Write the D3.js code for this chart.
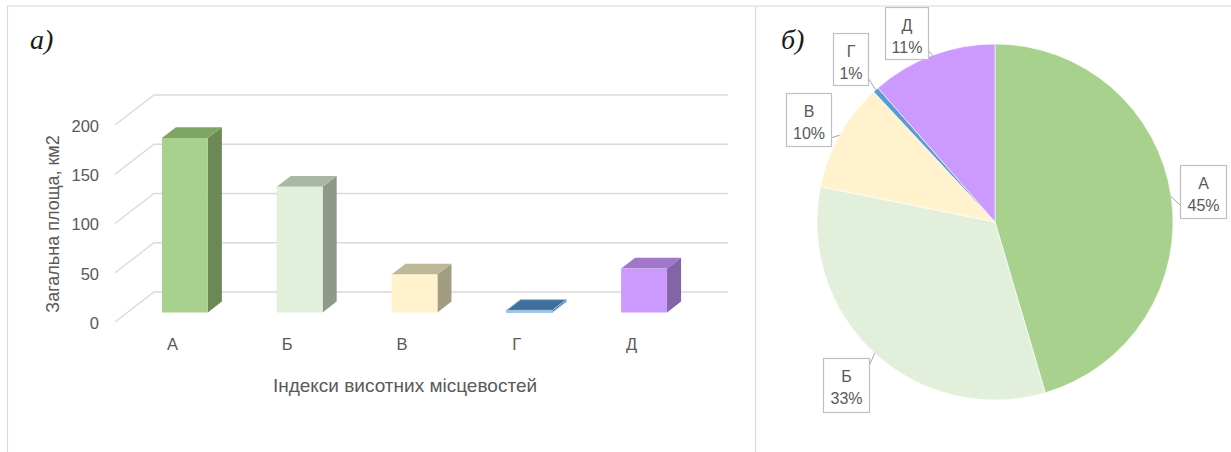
<!DOCTYPE html>
<html>
<head>
<meta charset="utf-8">
<script src="https://cdn.jsdelivr.net/npm/d3@7"></script>
<style>
  html, body { margin: 0; padding: 0; background: #fff; }
  svg { display: block; }
  text { font-family: "Liberation Sans", Arial, sans-serif; fill: #595959; }
</style>
</head>
<body>
<svg id="chart" width="1231" height="452"></svg>
<script>
// ---- data ----
const categories = ["А", "Б", "В", "Г", "Д"];
const areas = [177, 127.5, 38.5, 2, 44.5];      // загальна площа, км2
const yTicks = [0, 50, 100, 150, 200];
const frontColors = ["#a9d18e", "#e2efda", "#fff2cc", "#5b9bd5", "#cc99ff"];
const topColors   = ["#7fa564", "#a9b7a3", "#bfb898", "#3f6f9b", "#a077ca"];
const sideColors  = ["#6b8855", "#8e998a", "#a29c80", "#35628c", "#8264a7"];
const pieColors   = ["#a9d18e", "#e2efda", "#fff2cc", "#5b9bd5", "#cc99ff"];
const xTitle = "Індекси висотних місцевостей";
const yTitle = "Загальна площа, км2";

// ---- layout ----
const svg = d3.select("#chart");
const W = 1231, H = 452;

// panel frames
const frame = svg.append("g").attr("stroke", "#d9d9d9").attr("stroke-width", 1.2).attr("fill", "none");
frame.append("line").attr("x1", 7.5).attr("y1", 6).attr("x2", W).attr("y2", 6);
frame.append("line").attr("x1", 7.5).attr("y1", 6).attr("x2", 7.5).attr("y2", H);
frame.append("line").attr("x1", 755.5).attr("y1", 6).attr("x2", 755.5).attr("y2", H);

// panel captions
svg.append("text").attr("x", 30).attr("y", 49)
  .style("font-family", "'Liberation Serif', 'Times New Roman', serif")
  .style("font-style", "italic").style("font-size", "28px").style("fill", "#1a1a1a")
  .text("а)");
svg.append("text").attr("x", 781).attr("y", 49)
  .style("font-family", "'Liberation Serif', 'Times New Roman', serif")
  .style("font-style", "italic").style("font-size", "28px").style("fill", "#1a1a1a")
  .text("б)");

// ---- 3D column chart ----
const depthX = 39, depthY = -30;           // floor depth vector (front -> back wall)
const x = d3.scaleBand().domain(categories).range([115, 689]).paddingInner(0.6).paddingOuter(0.3);
const y = d3.scaleLinear().domain([0, 200]).range([322, 125]);
const P = (px, v, d) => [px + depthX * d, y(v) + depthY * d];

const bar = svg.append("g");
// gridlines: diagonal on side wall + horizontal on back wall
const grid = bar.append("g").attr("stroke", "#d9d9d9").attr("stroke-width", 1.3).attr("fill", "none");
yTicks.forEach(t => {
  const a = P(x.range()[0], t, 0), b = P(x.range()[0], t, 1), c = P(x.range()[1], t, 1);
  grid.append("path").attr("d", d3.line()([a, b, c]));
});

// y axis labels via d3 axis on the front edge
const yAxis = bar.append("g")
  .attr("transform", `translate(${x.range()[0] - 13},1)`)
  .call(d3.axisLeft(y).tickValues(yTicks).tickSize(0).tickPadding(3));
yAxis.select(".domain").remove();
yAxis.selectAll("text").style("font-family", "'Liberation Sans', Arial, sans-serif")
  .style("font-size", "16.5px").style("fill", "#595959");

// bars
const d0 = 0.32, d1 = 0.68;
const bars = bar.append("g").selectAll("g").data(categories).join("g");
bars.each(function (c, i) {
  const g = d3.select(this);
  const xl = x(c), xr = x(c) + x.bandwidth(), v = areas[i];
  const line = d3.line();
  const stroke = i === 3 ? "#9dc3e6" : "none";
  // side face
  g.append("path").attr("d", line([P(xr, 0, d0), P(xr, 0, d1), P(xr, v, d1), P(xr, v, d0)]) + "Z")
    .attr("fill", sideColors[i]).attr("stroke", stroke).attr("stroke-width", 1);
  // top face
  g.append("path").attr("d", line([P(xl, v, d0), P(xr, v, d0), P(xr, v, d1), P(xl, v, d1)]) + "Z")
    .attr("fill", topColors[i]).attr("stroke", stroke).attr("stroke-width", 1);
  // front face
  g.append("path").attr("d", line([P(xl, 0, d0), P(xr, 0, d0), P(xr, v, d0), P(xl, v, d0)]) + "Z")
    .attr("fill", i === 3 ? "#9dc3e6" : frontColors[i]).attr("stroke", stroke).attr("stroke-width", 1);
});

// category labels
const xAxis = bar.append("g")
  .attr("transform", `translate(0,${y(0) + 13})`)
  .call(d3.axisBottom(x).tickSize(0).tickPadding(3));
xAxis.select(".domain").remove();
xAxis.selectAll("text").style("font-family", "'Liberation Sans', Arial, sans-serif")
  .style("font-size", "16.5px").style("fill", "#595959");

// axis titles
bar.append("text").attr("x", 405).attr("y", 392).attr("text-anchor", "middle")
  .style("font-size", "19px").text(xTitle);
bar.append("text").attr("transform", "translate(59,224) rotate(-90)").attr("text-anchor", "middle")
  .style("font-size", "18px").text(yTitle);

// ---- pie chart ----
const cx = 995, cy = 222, R = 178;
const total = d3.sum(areas);
const pie = d3.pie().sort(null).value(d => d)(areas);
const arc = d3.arc().innerRadius(0).outerRadius(R);
const pg = svg.append("g").attr("transform", `translate(${cx},${cy})`);
pg.selectAll("path").data(pie).join("path")
  .attr("d", arc).attr("fill", (d, i) => pieColors[i])
  .attr("stroke", "#ffffff").attr("stroke-width", 0.6);

// callout boxes (layout: box x, y, w, h, leader anchor on box)
const boxes = [
  { x: 1180, y: 165, w: 46, h: 53, ax: 1180, ay: 205 },
  { x: 823, y: 358, w: 46, h: 54, ax: 869, ay: 366 },
  { x: 786, y: 93, w: 45, h: 53, ax: 831, ay: 138 },
  { x: 833, y: 33, w: 35, h: 52, ax: 868, ay: 78 },
  { x: 885, y: 7, w: 43, h: 52, ax: 928, ay: 50 }
];
const lg = svg.append("g");
pie.forEach((d, i) => {
  const b = boxes[i];
  const mid = (d.startAngle + d.endAngle) / 2;
  const ex = cx + R * Math.sin(mid), ey = cy - R * Math.cos(mid);
  lg.append("line").attr("x1", b.ax).attr("y1", b.ay).attr("x2", ex).attr("y2", ey)
    .attr("stroke", "#a6a6a6").attr("stroke-width", 1);
  lg.append("rect").attr("x", b.x + 0.5).attr("y", b.y + 0.5).attr("width", b.w).attr("height", b.h)
    .attr("fill", "#fff").attr("stroke", "#bfbfbf").attr("stroke-width", 1.2);
  lg.append("text").attr("x", b.x + b.w / 2 + 0.5).attr("y", b.y + 24).attr("text-anchor", "middle")
    .style("font-size", "16px").text(categories[i]);
  lg.append("text").attr("x", b.x + b.w / 2 + 0.5).attr("y", b.y + 46).attr("text-anchor", "middle")
    .style("font-size", "16px").text(Math.round(areas[i] / total * 100) + "%");
});
</script>
</body>
</html>
